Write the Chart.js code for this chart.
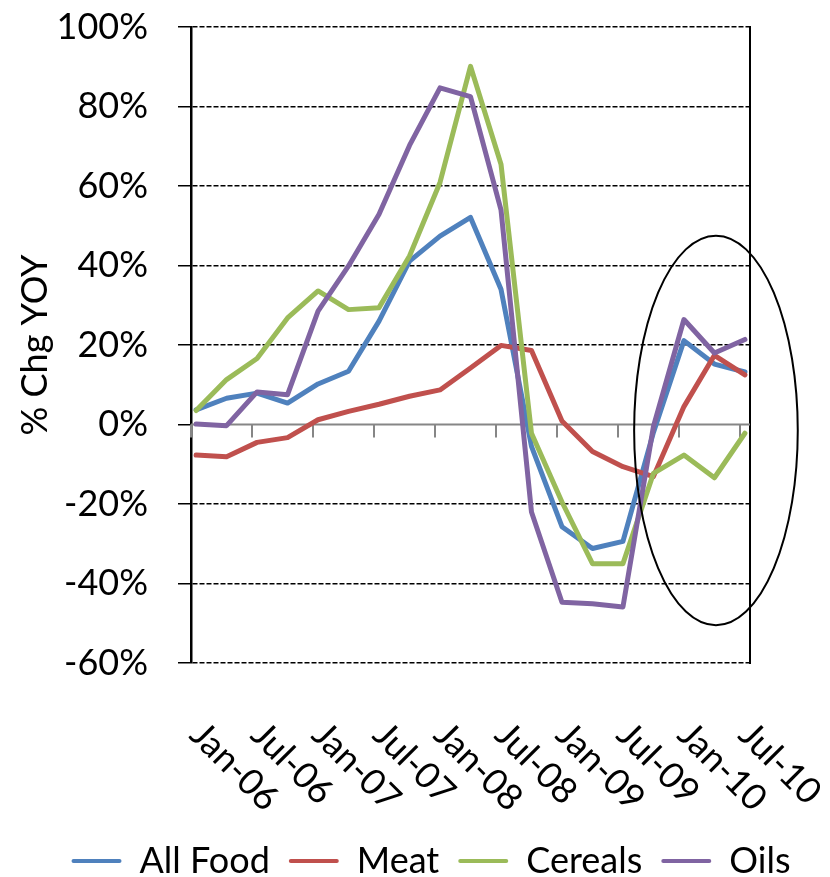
<!DOCTYPE html>
<html>
<head>
<meta charset="utf-8">
<title>Food price inflation, % change year over year</title>
<script src="https://cdn.jsdelivr.net/npm/chart.js@4.4.1/dist/chart.umd.min.js"></script>
<style>
  html, body { margin: 0; padding: 0; background: #ffffff; }
  canvas { display: block; }
</style>
</head>
<body>
<canvas id="chart" width="830" height="877"></canvas>
<script>
// Quarterly observations (% change, year over year)
const quarters = ['Jan-06','Apr-06','Jul-06','Oct-06','Jan-07','Apr-07','Jul-07','Oct-07',
                  'Jan-08','Apr-08','Jul-08','Oct-08','Jan-09','Apr-09','Jul-09','Oct-09',
                  'Jan-10','Apr-10','Jul-10'];
const allFood = [3.7, 6.6, 7.9, 5.4, 10.2, 13.4, 26.0, 41.1, 47.4, 52.1, 34.0, -5.5,
                 -25.7, -31.2, -29.4, -2.0, 21.1, 15.2, 13.2];
const meat    = [-7.7, -8.1, -4.5, -3.3, 1.2, 3.3, 5.1, 7.1, 8.7, 14.2, 19.9, 18.6,
                 0.9, -6.8, -10.6, -13.1, 4.5, 17.4, 12.5];
const cereals = [3.5, 11.3, 16.6, 26.8, 33.6, 28.9, 29.4, 42.4, 60.9, 90.1, 65.5, -2.2,
                 -19.5, -35.0, -35.0, -12.3, -7.7, -13.4, -2.2];
const oils    = [0.1, -0.3, 8.2, 7.5, 28.5, 39.9, 52.9, 70.2, 84.7, 82.5, 54.0, -22.0,
                 -44.7, -45.1, -45.9, -0.5, 26.4, 18.0, 21.4];

// Date axis labels, every six months
const axisLabels = ['Jan-06','Jul-06','Jan-07','Jul-07','Jan-08','Jul-08','Jan-09','Jul-09','Jan-10','Jul-10'];

// Value axis range (%)
const yMin = -60, yMax = 100, yStep = 20;

// Highlighted recent period (months since Jan-06, %)
const highlight = { xMin: 43.6, xMax: 59.7, yMin: -50.5, yMax: 47.5 };

const MONTH = { Jan: 0, Feb: 1, Mar: 2, Apr: 3, May: 4, Jun: 5, Jul: 6, Aug: 7, Sep: 8, Oct: 9, Nov: 10, Dec: 11 };
function monthIndex(label) {
  const [m, yy] = label.split('-');
  return (2000 + Number(yy) - 2006) * 12 + MONTH[m];
}
// observations sit in the middle of their month
const points = values => quarters.map((q, i) => ({ x: monthIndex(q) + 0.5, y: values[i] }));

const FONT = 'Lato';
Chart.defaults.font.family = FONT;
Chart.defaults.font.size = 36;
Chart.defaults.color = '#000000';

const series = [
  { label: 'All Food', values: allFood, color: '#4F81BD' },
  { label: 'Meat',     values: meat,    color: '#C0504D' },
  { label: 'Cereals',  values: cereals, color: '#9BBB59' },
  { label: 'Oils',     values: oils,    color: '#8064A2' }
];

// zero line with date tick marks, rotated date labels and the highlight ellipse
const axisDecor = {
  id: 'axisDecor',
  beforeDatasetsDraw(chart) {
    const { ctx, chartArea, scales: { x, y } } = chart;
    const y0 = y.getPixelForValue(0);
    ctx.save();
    ctx.strokeStyle = '#868686';
    ctx.lineWidth = 2;
    ctx.beginPath();
    ctx.moveTo(chartArea.left, y0);
    ctx.lineTo(chartArea.right, y0);
    x.ticks.forEach(t => {
      const px = Math.round(x.getPixelForValue(t.value));
      ctx.moveTo(px, y0);
      ctx.lineTo(px, y0 + 13);
    });
    ctx.stroke();
    ctx.restore();
  },
  afterDraw(chart) {
    const { ctx, chartArea, scales: { x, y } } = chart;
    ctx.save();
    ctx.fillStyle = '#000000';
    ctx.font = '36px ' + FONT;
    ctx.textAlign = 'left';
    ctx.textBaseline = 'alphabetic';
    x.ticks.forEach((t, i) => {
      const px = x.getPixelForValue(t.value);
      ctx.save();
      ctx.translate(px - 3, chartArea.bottom + 74);
      ctx.rotate(Math.PI / 4);
      ctx.fillText(t.label || axisLabels[i], 0, 0);
      ctx.restore();
    });
    const x1 = x.getPixelForValue(highlight.xMin), x2 = x.getPixelForValue(highlight.xMax);
    const y1 = y.getPixelForValue(highlight.yMax), y2 = y.getPixelForValue(highlight.yMin);
    ctx.beginPath();
    ctx.ellipse((x1 + x2) / 2, (y1 + y2) / 2, (x2 - x1) / 2, (y2 - y1) / 2, 0, 0, Math.PI * 2);
    ctx.lineWidth = 2;
    ctx.strokeStyle = '#000000';
    ctx.stroke();
    ctx.restore();
  }
};

new Chart(document.getElementById('chart'), {
  type: 'line',
  data: {
    datasets: series.map((s, i) => ({
      label: s.label,
      data: points(s.values),
      borderColor: s.color,
      backgroundColor: s.color,
      borderWidth: 5,
      borderJoinStyle: 'round',
      borderCapStyle: 'round',
      pointRadius: 0,
      tension: 0,
      order: series.length - i
    }))
  },
  options: {
    responsive: false,
    animation: false,
    events: [],
    layout: { padding: { top: 27, left: 32, right: 0, bottom: -12 } },
    scales: {
      x: {
        type: 'linear',
        min: 0,
        max: monthIndex(axisLabels[axisLabels.length - 1]) + 1,
        grid: { display: false },
        border: { display: false },
        ticks: {
          display: false,
          callback: v => axisLabels.find(l => monthIndex(l) === v) || ''
        },
        afterBuildTicks: s => { s.ticks = axisLabels.map(l => ({ value: monthIndex(l) })); },
        afterFit: s => { s.height = 161; }
      },
      y: {
        min: yMin,
        max: yMax,
        ticks: {
          stepSize: yStep,
          padding: 30,
          color: '#000000',
          font: { size: 36 },
          callback: v => v + '%'
        },
        grid: {
          color: c => (c.tick && c.tick.value === 0) ? 'rgba(0,0,0,0)' : '#000000',
          lineWidth: 1.5,
          tickColor: '#000000',
          tickLength: 13,
          tickWidth: 1.5
        },
        border: { display: true, color: '#000000', width: 2.5, dash: [5, 2] },
        title: {
          display: true,
          text: '% Chg YOY',
          color: '#000000',
          font: { size: 36 },
          padding: { top: -18, bottom: 0 }
        },
        afterFit: s => {
          s.width = 159;
          // the plot area edges are set by the layout padding, not by the label overhang
          s.paddingTop = 0;
          s.paddingBottom = 0;
        }
      },
      y2: {
        position: 'right',
        grid: { display: false, drawTicks: false },
        ticks: { display: false },
        border: { display: true, color: '#000000', width: 2 },
        afterFit: s => { s.width = 80; }
      }
    },
    plugins: {
      tooltip: { enabled: false },
      legend: {
        position: 'bottom',
        labels: {
          font: { size: 36 },
          color: '#000000',
          boxWidth: 50,
          boxHeight: 4,
          padding: 19,
          sort: (a, b) => a.datasetIndex - b.datasetIndex,
          generateLabels: chart => Chart.defaults.plugins.legend.labels.generateLabels(chart)
            .map(item => Object.assign(item, { fillStyle: item.strokeStyle, lineWidth: 0, borderRadius: 2 }))
        }
      }
    }
  },
  plugins: [axisDecor]
});
</script>
</body>
</html>
